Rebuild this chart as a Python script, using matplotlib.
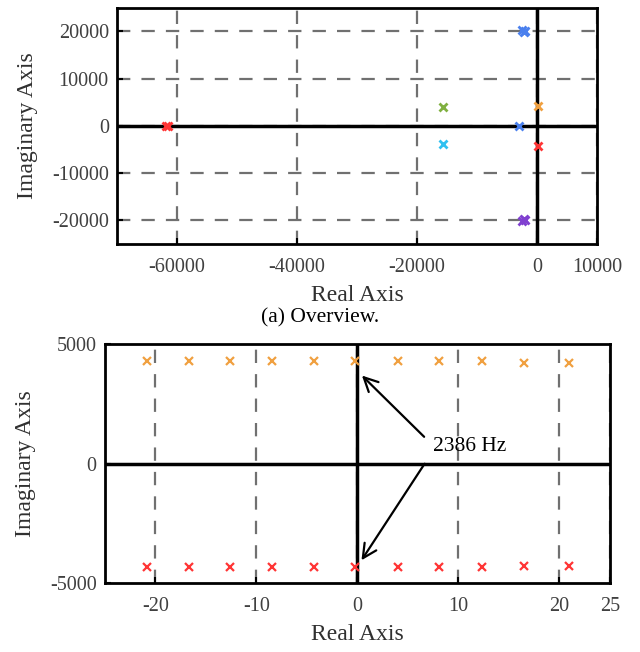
import matplotlib
matplotlib.use("Agg")
import matplotlib.pyplot as plt

plt.rcParams['font.family'] = ['Liberation Serif', 'DejaVu Serif']
plt.rcParams['axes.unicode_minus'] = False

# ---- Data: overview (a) ----
red_far_re = [-61800, -61500]
red_far_im = [0, 0]
blue_hi_re = [-2450, -2200, -1950]
blue_hi_im = [20200, 19800, 20050]
purple_lo_re = [-2450, -2200, -1950]
purple_lo_im = [-20200, -19800, -20050]
green_re = [-15700]
green_im = [3950]
cyan_re = [-15700]
cyan_im = [-3950]
blue_sm_re = [-3100]
blue_sm_im = [0]
orange_re = [100]
orange_im = [4250]
red_re = [100]
red_im = [-4250]

top_xticks = [-60000, -40000, -20000, 0, 10000]
top_yticks = [-20000, -10000, 0, 10000, 20000]

# ---- Data: zoom (b) ----
zoom_re = [-20.8, -16.7, -12.6, -8.5, -4.3, -0.2, 4.0, 8.1, 12.3, 16.5, 20.9]
orange_zoom_im = [4300, 4300, 4300, 4300, 4300, 4300, 4300, 4300, 4300, 4230, 4230]
red_zoom_im = [-4330, -4330, -4330, -4330, -4330, -4330, -4330, -4330, -4330, -4280, -4280]
bot_xticks = [-20, -10, 0, 10, 20, 25]
bot_yticks = [-5000, 0, 5000]
annot_text = "2386 Hz"

C_BLUE = '#4a80ee'
C_PURPLE = '#8040d0'
C_GREEN = '#80b040'
C_CYAN = '#30c0f0'
C_ORANGE = '#f0a040'
C_RED = '#ff3535'
TICK_COL = '#404040'

fig = plt.figure(figsize=(6.4, 6.52), dpi=100)
ax1 = fig.add_axes([0.183, 0.626, 0.750, 0.362])
ax2 = fig.add_axes([0.164, 0.106, 0.789, 0.366])


def style(ax, xlim, ylim, xt, yt):
    ax.set_xlim(*xlim)
    ax.set_ylim(*ylim)
    ax.set_xticks(xt)
    ax.set_yticks(yt)
    ax.tick_params(direction='in', length=4, width=1.5, colors='black',
                   labelcolor=TICK_COL, labelsize=14.5)
    ax.tick_params(axis='x', pad=10)
    ax.tick_params(axis='y', pad=6)
    for s in ax.spines.values():
        s.set_linewidth(2)
    ax.grid(True, color='#707070', linestyle=(0, (6, 5)), linewidth=1.6)
    ax.axhline(0, color='black', lw=2.5, zorder=2)
    ax.axvline(0, color='black', lw=2.5, zorder=2)
    ax.set_xlabel('Real Axis', fontsize=17, color='#303030', labelpad=6)
    ax.set_ylabel('Imaginary Axis', fontsize=17, color='#303030', labelpad=10)


style(ax1, (-70000, 10000), (-25000, 25000), top_xticks, top_yticks)
style(ax2, (-25, 25), (-5000, 5000), bot_xticks, bot_yticks)
ax2.yaxis.grid(False)

mk = dict(marker='x', linestyle='none', markersize=6, markeredgewidth=2, zorder=3)
ax1.plot(red_far_re, red_far_im, color=C_RED, **mk)
ax1.plot(blue_hi_re, blue_hi_im, color=C_BLUE, **mk)
ax1.plot(purple_lo_re, purple_lo_im, color=C_PURPLE, **mk)
ax1.plot(green_re, green_im, color=C_GREEN, **mk)
ax1.plot(cyan_re, cyan_im, color=C_CYAN, **mk)
ax1.plot(blue_sm_re, blue_sm_im, color=C_BLUE, **mk)
ax1.plot(orange_re, orange_im, color=C_ORANGE, **mk)
ax1.plot(red_re, red_im, color=C_RED, **mk)

mk2 = dict(marker='x', linestyle='none', markersize=6, markeredgewidth=1.6, zorder=3)
ax2.plot(zoom_re, orange_zoom_im, color=C_ORANGE, **mk2)
ax2.plot(zoom_re, red_zoom_im, color=C_RED, **mk2)

ax2.text(7.5, 700, annot_text, fontsize=15.5, color='black', va='center', ha='left')
arrow = dict(arrowstyle='->', color='black', lw=1.6, mutation_scale=25)
ax2.annotate('', xy=(0.25, 3770), xytext=(6.8, 1040), arrowprops=arrow)
ax2.annotate('', xy=(0.25, -4150), xytext=(6.8, 90), arrowprops=arrow)

fig.text(0.5, 0.512, '(a) Overview.', ha='center', va='center', fontsize=15.5, color='black')

fig.savefig('out.png', dpi=100)
